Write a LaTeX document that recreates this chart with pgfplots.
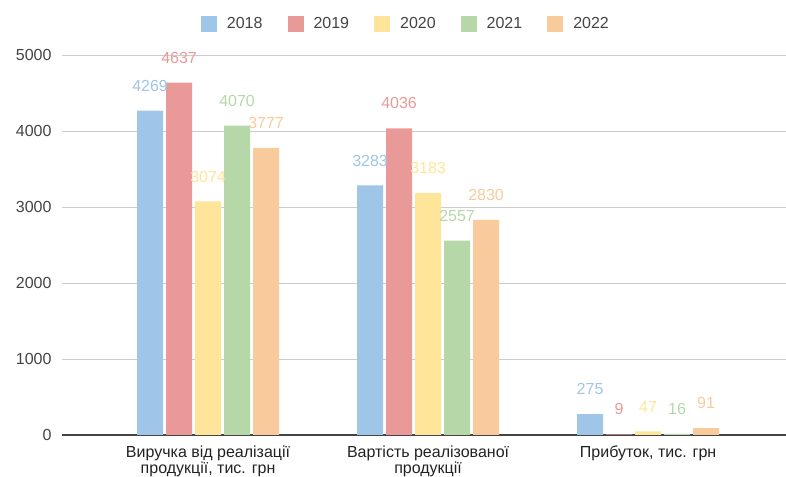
\documentclass[border=0pt]{standalone}
\usepackage{pgfplots}
\pgfplotsset{compat=1.18}
\usepackage{fontspec}
\setmainfont{Liberation Sans}
\definecolor{c18}{HTML}{9FC5E8}
\definecolor{c19}{HTML}{EA9999}
\definecolor{c20}{HTML}{FFE599}
\definecolor{c21}{HTML}{B6D7A8}
\definecolor{c22}{HTML}{F9CB9C}
\definecolor{gridgray}{HTML}{CCCCCC}
\definecolor{zerogray}{HTML}{444444}
\definecolor{ticktext}{HTML}{444444}
\definecolor{cattext}{HTML}{222222}
\begin{document}
\begin{tikzpicture}[x=1bp,y=1bp]
\useasboundingbox (0,0) rectangle (786,477);
\begin{axis}[
  at={(62bp,42bp)}, anchor=south west,
  scale only axis, width=724bp, height=380bp,
  xmin=-0.664, xmax=2.627, ymin=0, ymax=5000,
  ybar=3bp, bar width=26bp,
  axis line style={draw=none},
  ytick={0,1000,2000,3000,4000,5000},
  ymajorgrids, grid style={color=gridgray, line width=0.8bp},
  major tick length=0pt,
  extra y ticks={0}, extra y tick labels={},
  extra y tick style={grid style={color=zerogray, line width=1.1bp}},
  xtick={0,1,2},
  xticklabels={{Виручка від реалізації\\продукції, тис. грн},{Вартість реалізованої\\продукції},{Прибуток, тис. грн}},
  xticklabel style={align=center, font=\fontsize{16bp}{16bp}\selectfont, text=cattext, yshift=-7bp},
  yticklabel style={font=\fontsize{16bp}{18bp}\selectfont, text=ticktext, xshift=-7bp},
  scaled y ticks=false,
  /pgf/number format/assume math mode=true,
  /pgf/number format/1000 sep={},
  nodes near coords,
  every node near coord/.append style={font=\fontsize{16bp}{18bp}\selectfont, inner sep=0pt, anchor=south, yshift=19bp},
  legend style={at={(0.475,1)}, anchor=center, yshift=31bp, draw=none, fill=none,
    legend columns=-1, font=\fontsize{16bp}{18bp}\selectfont, text=ticktext,
    /tikz/every even column/.append style={column sep=23bp}},
  legend image code/.code={\fill[#1] (0bp,-8bp) rectangle (16bp,8bp); \path (24bp,0bp);},
  clip=false,
]
\addplot[fill=c18, draw=none, every node near coord/.append style={text=c18}] coordinates {(0,4269) (1,3283) (2,275)};
\addplot[fill=c19, draw=none, every node near coord/.append style={text=c19}] coordinates {(0,4637) (1,4036) (2,9)};
\addplot[fill=c20, draw=none, every node near coord/.append style={text=c20}] coordinates {(0,3074) (1,3183) (2,47)};
\addplot[fill=c21, draw=none, every node near coord/.append style={text=c21}] coordinates {(0,4070) (1,2557) (2,16)};
\addplot[fill=c22, draw=none, every node near coord/.append style={text=c22}] coordinates {(0,3777) (1,2830) (2,91)};
\legend{2018,2019,2020,2021,2022}
\end{axis}
\end{tikzpicture}
\end{document}
